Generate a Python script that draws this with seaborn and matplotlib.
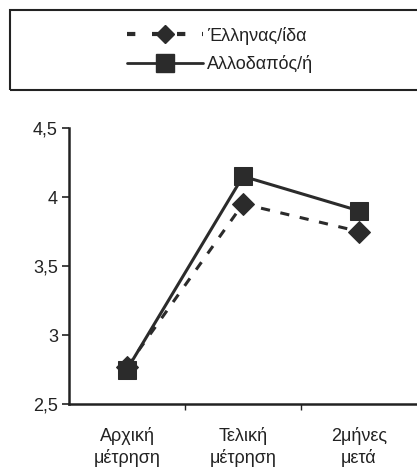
import matplotlib
matplotlib.use("Agg")
import matplotlib.pyplot as plt
from matplotlib.patches import Rectangle
import matplotlib.ticker as mticker
import pandas as pd
import seaborn as sns

# data
categories = ["Αρχική\nμέτρηση", "Τελική\nμέτρηση", "2μήνες\nμετά"]
greek = [2.77, 3.95, 3.75]
foreign = [2.75, 4.15, 3.90]
series_names = ["Έλληνας/ίδα", "Αλλοδαπός/ή"]

sns.set_theme(style="white")
plt.rcParams["font.family"] = ["Liberation Sans", "DejaVu Sans"]

df = pd.DataFrame({
    "x": list(range(3)) * 2,
    "value": greek + foreign,
    "group": [series_names[0]] * 3 + [series_names[1]] * 3,
})

fig = plt.figure(figsize=(4.17, 4.73), dpi=100)
ax = fig.add_axes([69 / 417, 1 - 404 / 473, 1 - 69 / 417, (404 - 128) / 473])

col = "#2b2b2b"
sns.lineplot(data=df, x="x", y="value", hue="group", style="group",
             palette={series_names[0]: col, series_names[1]: col},
             dashes={series_names[0]: (3, 3.5), series_names[1]: ""},
             markers={series_names[0]: "D", series_names[1]: "s"},
             hue_order=series_names, style_order=series_names,
             markersize=13, linewidth=2.2, markeredgecolor=col,
             legend=False, ax=ax)

# diamonds a bit smaller than squares, squares drawn on top
ax.lines[0].set_markersize(11)
ax.lines[1].set_zorder(3)

ax.set_xlim(-0.5, 2.5)
ax.set_ylim(2.5, 4.5)
ax.set_xlabel("")
ax.set_ylabel("")
ax.set_yticks([2.5, 3, 3.5, 4, 4.5])
ax.yaxis.set_major_formatter(mticker.FuncFormatter(
    lambda v, p: (f"{v:g}").replace(".", ",")))
ax.set_xticks([0.5, 1.5])
ax.set_xticklabels([])
ax.tick_params(axis="y", direction="out", length=5, width=1.2, color="#222",
               labelsize=13, pad=3, left=True, labelcolor="#222")
ax.tick_params(axis="x", direction="out", length=4, width=1, color="#222",
               bottom=True)
for i, c in enumerate(categories):
    ax.text(i, -0.085, c, transform=ax.get_xaxis_transform(), ha="center",
            va="top", fontsize=13, color="#222", linespacing=1.25)

for s in ["top", "right"]:
    ax.spines[s].set_visible(False)
for s in ["left", "bottom"]:
    ax.spines[s].set_color("#222")
    ax.spines[s].set_linewidth(1.8)

# legend in a box above the plot
fig.patches.append(Rectangle((10 / 417, 1 - 90 / 473), 1.0, 80 / 473,
                             transform=fig.transFigure, fill=False,
                             edgecolor="#222", linewidth=1.5))
h1 = plt.Line2D([], [], color=col, linestyle=(0, (2, 4)), linewidth=3,
                marker="D", markersize=9)
h2 = plt.Line2D([], [], color=col, linestyle="-", linewidth=2,
                marker="s", markersize=13)
fig.legend([h1, h2], series_names, loc="center",
           bbox_to_anchor=(220 / 417, 1 - 50 / 473), frameon=False,
           fontsize=13, handlelength=4.2, handletextpad=0.2,
           labelspacing=0.6, labelcolor="#222")

fig.savefig("out.png", dpi=100)
